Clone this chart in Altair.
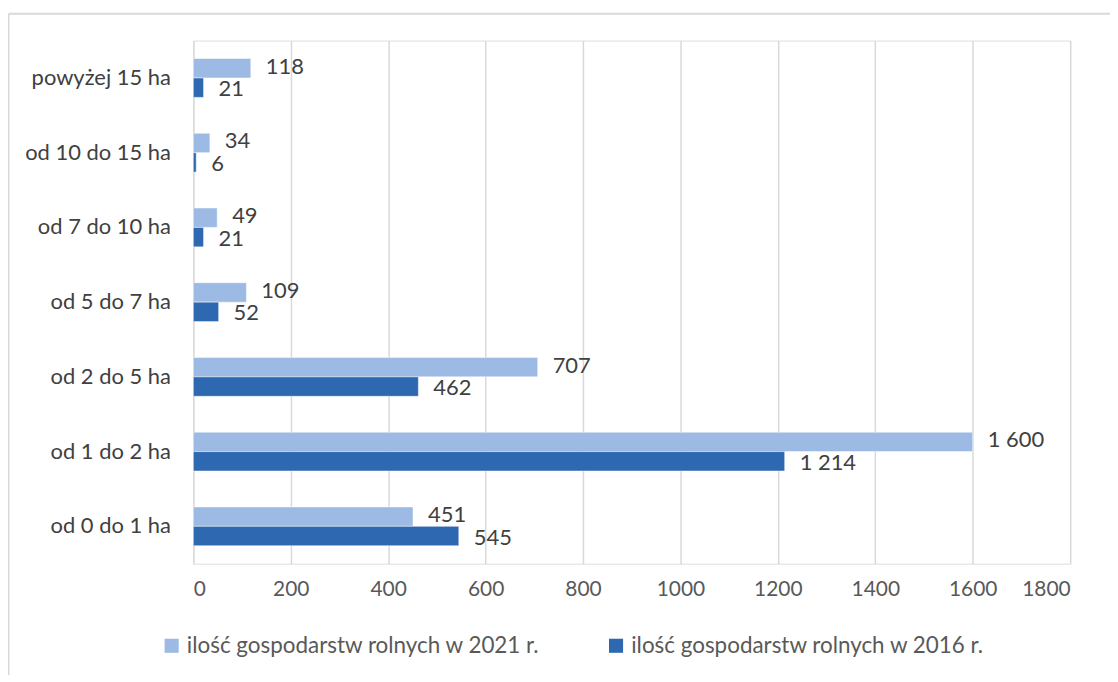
import altair as alt
import pandas as pd

categories = ["powyżej 15 ha", "od 10 do 15 ha", "od 7 do 10 ha", "od 5 do 7 ha",
              "od 2 do 5 ha", "od 1 do 2 ha", "od 0 do 1 ha"]
series = ["ilość gospodarstw rolnych w 2021 r.", "ilość gospodarstw rolnych w 2016 r."]
values_2021 = [118, 34, 49, 109, 707, 1600, 451]
values_2016 = [21, 6, 21, 52, 462, 1214, 545]
colors = ["#9CBAE4", "#2E68B1"]
x_ticks = [0, 200, 400, 600, 800, 1000, 1200, 1400, 1600, 1800]

rows = []
for cat, a, b in zip(categories, values_2021, values_2016):
    rows.append({"cat": cat, "series": series[0], "value": a})
    rows.append({"cat": cat, "series": series[1], "value": b})
df = pd.DataFrame(rows)
df["label"] = df["value"].map(lambda v: f"{v:,}".replace(",", " "))

FONT = "Lato"

y_enc = alt.Y("cat:N", sort=categories, title=None,
              scale=alt.Scale(paddingInner=0.48, paddingOuter=0.24),
              axis=alt.Axis(ticks=False, domain=False, labelPadding=23,
                            labelFontSize=22, labelColor="#404040", labelFont=FONT))
yoff = alt.YOffset("series:N", sort=series)
x_enc = alt.X("value:Q", title=None,
              scale=alt.Scale(domain=[0, 1800], nice=False),
              axis=alt.Axis(values=x_ticks, ticks=False, domain=False, labelPadding=15,
                            labelFontSize=21, labelColor="#595959", labelFont=FONT,
                            gridColor="#D9D9D9", gridWidth=1.5, format="d"))

base = alt.Chart(df)
bars = base.mark_bar(stroke="white", strokeWidth=0.5).encode(
    y=y_enc, yOffset=yoff, x=x_enc,
    color=alt.Color("series:N", sort=series,
                    scale=alt.Scale(domain=series, range=colors),
                    legend=alt.Legend(title=None, orient="none", direction="horizontal",
                                      legendX=-33, legendY=596,
                                      symbolType="square", symbolSize=200,
                                      symbolStrokeWidth=0,
                                      labelFontSize=22.5, labelColor="#595959",
                                      labelFont=FONT, columnPadding=64, labelLimit=600))
)


def label_layer(name, dy):
    return base.transform_filter(alt.datum.series == name).mark_text(
        align="left", baseline="middle", dx=15, dy=dy, fontSize=22,
        color="#404040", font=FONT).encode(
        y=alt.Y("cat:N", sort=categories), yOffset=yoff,
        x=alt.X("value:Q"), text="label:N")


texts_a = label_layer(series[0], -1.5)
texts_b = label_layer(series[1], 1.5)

frame_left = alt.Chart().mark_rule(color="#D9D9D9", strokeWidth=2).encode(
    x=alt.value(-185.5), y=alt.value(-27), y2=alt.value(700))
frame_top = alt.Chart().mark_rule(color="#D9D9D9", strokeWidth=2).encode(
    x=alt.value(-185.5), x2=alt.value(1000), y=alt.value(-27))

chart = alt.layer(bars, texts_a, texts_b, frame_left, frame_top).properties(
    width=880, height=525,
    autosize=alt.AutoSizeParams(type="none"),
    padding={"left": 186, "top": 31.5, "right": 40, "bottom": 110},
).configure_view(stroke=None).configure(background="white")

chart.save("out.html", embed_options={"renderer": "svg", "actions": False})
